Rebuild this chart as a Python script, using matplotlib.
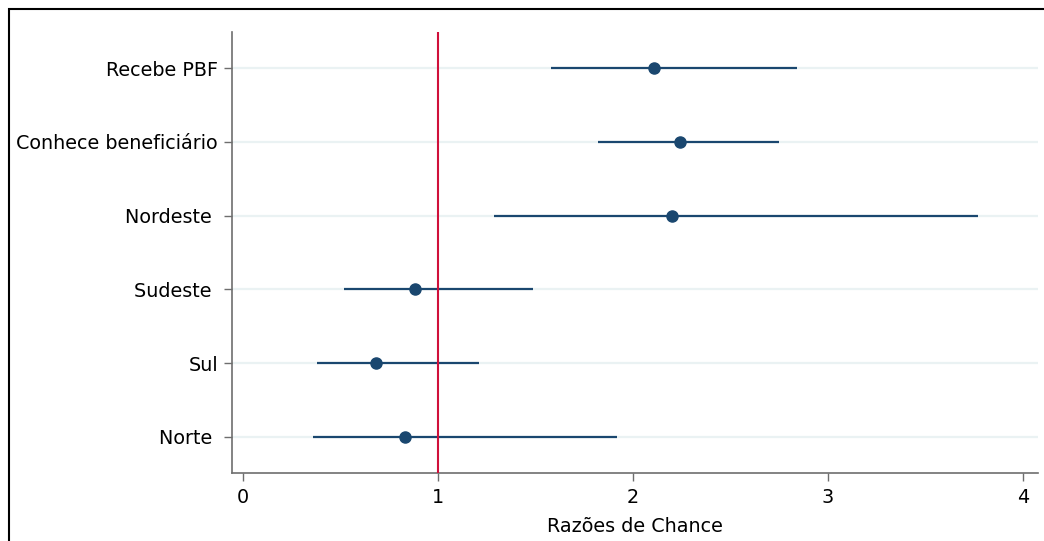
import numpy as np
import matplotlib
matplotlib.use("Agg")
import matplotlib.pyplot as plt
from matplotlib.patches import Rectangle

# odds ratios with 95% CI (top to bottom)
labels = ["Recebe PBF", "Conhece beneficiário", "Nordeste ", "Sudeste ", "Sul", "Norte "]
odds = [2.11, 2.24, 2.20, 0.88, 0.68, 0.83]
ci_low = [1.58, 1.82, 1.29, 0.52, 0.38, 0.36]
ci_high = [2.84, 2.75, 3.77, 1.49, 1.21, 1.92]

navy = "#1a476f"
ypos = np.arange(len(labels), 0, -1)

fig = plt.figure(figsize=(10.44, 5.41), dpi=100)
ax = fig.add_axes([0.2222, 0.1257, 0.7721, 0.8152])

# light horizontal grid at each row
for y in ypos:
    ax.axhline(y, color="#eaf2f3", lw=1.6, zorder=0)

ax.hlines(ypos, ci_low, ci_high, color=navy, lw=1.6, zorder=2)
ax.plot(odds, ypos, "o", color=navy, ms=8, zorder=3)
ax.axvline(1, color="#d0103a", lw=1.5, zorder=4)

ax.set_xlim(-0.056, 4.077)
ax.set_ylim(0.51, 6.49)
ax.set_xticks([0, 1, 2, 3, 4])
ax.set_yticks(ypos)
ax.set_yticklabels(labels)
ax.tick_params(axis="both", colors="#6e6e6e", length=6, width=1, labelsize=13.8,
               labelcolor="black", pad=4)
ax.tick_params(axis="x", pad=5)
ax.set_xlabel("Razões de Chance", fontsize=13.8, labelpad=7)

for side in ("top", "right"):
    ax.spines[side].set_visible(False)
for side in ("left", "bottom"):
    ax.spines[side].set_color("#6e6e6e")
    ax.spines[side].set_linewidth(1.2)

# outer frame around the graph area (cut at right/bottom edge)
fig.patches.append(Rectangle((9 / 1044, -0.05), 1.1, (541 - 9) / 541 + 0.05,
                             transform=fig.transFigure, fill=False,
                             edgecolor="black", lw=1.5))

fig.savefig("out.png", dpi=100)
